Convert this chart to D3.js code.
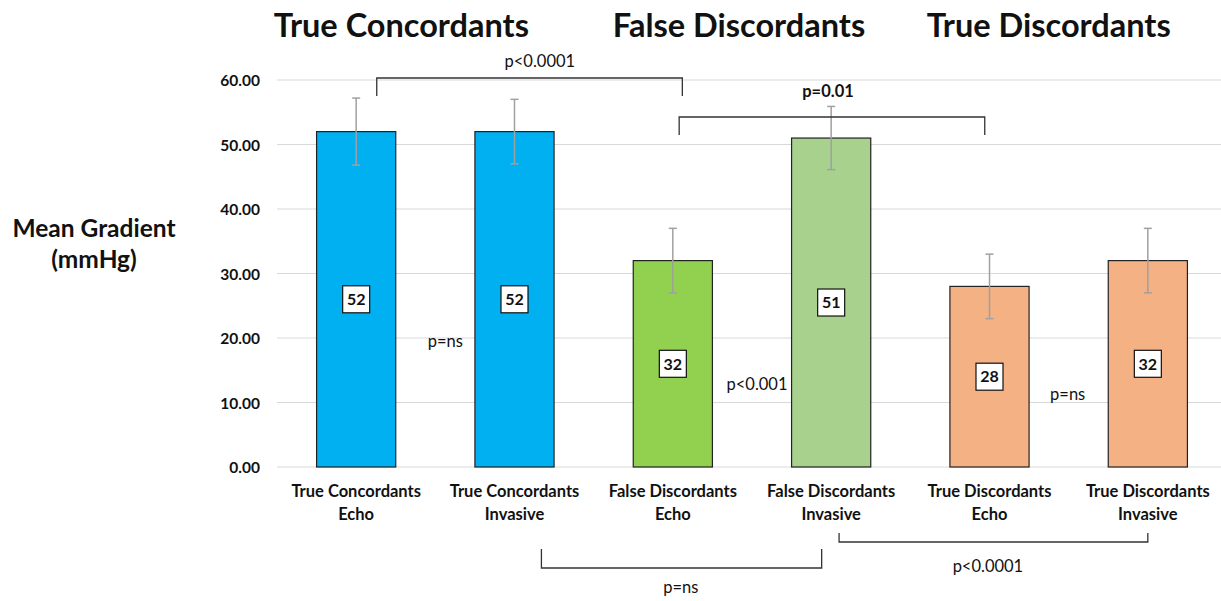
<!DOCTYPE html>
<html>
<head>
<meta charset="utf-8">
<script src="https://cdn.jsdelivr.net/npm/d3@7/dist/d3.min.js"></script>
<style>
  body { margin: 0; background: #fff; }
  svg { display: block; }
  text { font-family: Lato, "Open Sans", "DejaVu Sans", sans-serif; fill: #111; }
</style>
</head>
<body>
<svg id="chart" width="1221" height="601"></svg>
<script>
// ---- data -------------------------------------------------------------
const groups = ["True Concordants", "False Discordants", "True Discordants"];
const methods = ["Echo", "Invasive"];
const categories = [
  "True Concordants Echo", "True Concordants Invasive",
  "False Discordants Echo", "False Discordants Invasive",
  "True Discordants Echo", "True Discordants Invasive"
];
const meanGradient = [52, 52, 32, 51, 28, 32];        // mmHg
const errorMargin  = [5.2, 5.0, 5.0, 4.9, 5.0, 5.0];  // mmHg
const yTicks = [0, 10, 20, 30, 40, 50, 60];
const barColors = ["#00b0f0", "#00b0f0", "#92d050", "#a9d18e", "#f4b183", "#f4b183"];

// echo vs invasive within each group
const pairLabels = ["p=ns", "p<0.001", "p=ns"];
// comparisons between groups
const acrossTests = [
  { from: 0, to: 2, label: "p<0.0001" },
  { from: 2, to: 4, label: "p=0.01" },
  { from: 1, to: 3, label: "p=ns" },
  { from: 3, to: 5, label: "p<0.0001" }
];

// ---- layout -----------------------------------------------------------
const svg = d3.select("#chart");
const plot = { left: 277, right: 1227, top: 80, bottom: 467 };

const x = d3.scaleBand()
  .domain(categories)
  .range([plot.left, plot.right])
  .paddingInner(0.5)
  .paddingOuter(0.25);

const y = d3.scaleLinear()
  .domain([0, 60])
  .range([plot.bottom, plot.top]);

const cx = i => x(categories[i]) + x.bandwidth() / 2;
const step = x.step();

// gridlines
svg.append("g")
  .selectAll("line")
  .data(yTicks)
  .join("line")
  .attr("x1", plot.left).attr("x2", 1221)
  .attr("y1", d => y(d)).attr("y2", d => y(d))
  .attr("stroke", "#d9d9d9").attr("stroke-width", 1.2);

// y axis labels
const yAxis = svg.append("g")
  .attr("transform", `translate(${plot.left - 14},0)`)
  .call(d3.axisLeft(y).tickValues(yTicks).tickFormat(d3.format(".2f")).tickSize(0));
yAxis.select(".domain").remove();
yAxis.selectAll("text")
  .style("font-family", "Lato, sans-serif")
  .style("font-size", "15.5px")
  .style("font-weight", "700")
  .attr("fill", "#111")
  .attr("dy", "0.36em");

// y axis title
const yTitle = svg.append("text")
  .attr("text-anchor", "middle")
  .style("font-size", "24.5px")
  .style("font-weight", "700");
yTitle.append("tspan").attr("x", 94).attr("y", 237).text("Mean Gradient");
yTitle.append("tspan").attr("x", 94).attr("y", 268).text("(mmHg)");

// bars
svg.append("g")
  .selectAll("rect")
  .data(meanGradient)
  .join("rect")
  .attr("x", (d, i) => x(categories[i]))
  .attr("y", d => y(d))
  .attr("width", x.bandwidth())
  .attr("height", d => y(0) - y(d))
  .attr("fill", (d, i) => barColors[i])
  .attr("stroke", "#222")
  .attr("stroke-width", 1.2);

// error bars
const eb = svg.append("g").attr("stroke", "#a0a0a0").attr("stroke-width", 1.5);
meanGradient.forEach((m, i) => {
  const top = y(m + errorMargin[i]), bot = y(m - errorMargin[i]);
  eb.append("line").attr("x1", cx(i)).attr("x2", cx(i)).attr("y1", top).attr("y2", bot);
  eb.append("line").attr("x1", cx(i) - 4).attr("x2", cx(i) + 4).attr("y1", top).attr("y2", top);
  eb.append("line").attr("x1", cx(i) - 4).attr("x2", cx(i) + 4).attr("y1", bot).attr("y2", bot);
});

// value boxes at mid-height of each bar
const vb = svg.append("g")
  .selectAll("g")
  .data(meanGradient)
  .join("g")
  .attr("transform", (d, i) => `translate(${cx(i)},${y(d / 2)})`);
vb.append("rect")
  .attr("x", -13.5).attr("y", -13.5).attr("width", 27).attr("height", 27)
  .attr("fill", "#fff").attr("stroke", "#111").attr("stroke-width", 1.2);
vb.append("text")
  .attr("text-anchor", "middle").attr("dy", "0.36em")
  .style("font-size", "16px").style("font-weight", "700")
  .text(d => d3.format("d")(Math.round(d)));

// x axis category labels (two lines)
const xl = svg.append("g")
  .selectAll("text")
  .data(categories)
  .join("text")
  .attr("text-anchor", "middle")
  .style("font-size", "16.5px").style("font-weight", "700");
xl.append("tspan").attr("x", (d, i) => cx(i)).attr("y", 497)
  .text((d, i) => groups[Math.floor(i / 2)]);
xl.append("tspan").attr("x", (d, i) => cx(i)).attr("y", 520)
  .text((d, i) => methods[i % 2]);

// group titles above the chart
const titleShift = [-34, -13, -20];
svg.append("g")
  .selectAll("text")
  .data(groups)
  .join("text")
  .attr("x", (d, i) => (cx(2 * i) + cx(2 * i + 1)) / 2 + titleShift[i])
  .attr("y", 37)
  .attr("text-anchor", "middle")
  .style("font-size", "32.5px").style("font-weight", "700")
  .text(d => d);

// p-values between echo and invasive within a group
const pairPos = [{ dx: 10, y: 347 }, { dx: 5, y: 390 }, { dx: -1, y: 400 }];
svg.append("g")
  .selectAll("text")
  .data(pairLabels)
  .join("text")
  .attr("x", (d, i) => (cx(2 * i) + cx(2 * i + 1)) / 2 + pairPos[i].dx)
  .attr("y", (d, i) => pairPos[i].y)
  .attr("text-anchor", "middle")
  .style("font-size", "16.5px")
  .text(d => d);

// brackets between groups
const bracketGeom = [
  { x0: 0.13, x1: 2.06, yBar: 78,  yEnd: 96,  yText: 67,  textAt: 1.16, bold: false },
  { x0: 2.04, x1: 3.97, yBar: 117, yEnd: 135, yText: 97,  textAt: 2.98, bold: true },
  { x0: 1.17, x1: 2.94, yBar: 568, yEnd: 549, yText: 593, textAt: 2.05, bold: false },
  { x0: 3.05, x1: 5.0,  yBar: 542, yEnd: 533, yText: 572, textAt: 3.99, bold: false }
];
const px = f => cx(0) + f * step;
const br = svg.append("g");
acrossTests.forEach((t, k) => {
  const g = bracketGeom[k];
  br.append("path")
    .attr("d", `M${px(g.x0)},${g.yEnd}V${g.yBar}H${px(g.x1)}V${g.yEnd}`)
    .attr("fill", "none").attr("stroke", "#333").attr("stroke-width", 1.3);
  br.append("text")
    .attr("x", px(g.textAt)).attr("y", g.yText)
    .attr("text-anchor", "middle")
    .style("font-size", "16.5px")
    .style("font-weight", g.bold ? "700" : "400")
    .text(t.label);
});
</script>
</body>
</html>
